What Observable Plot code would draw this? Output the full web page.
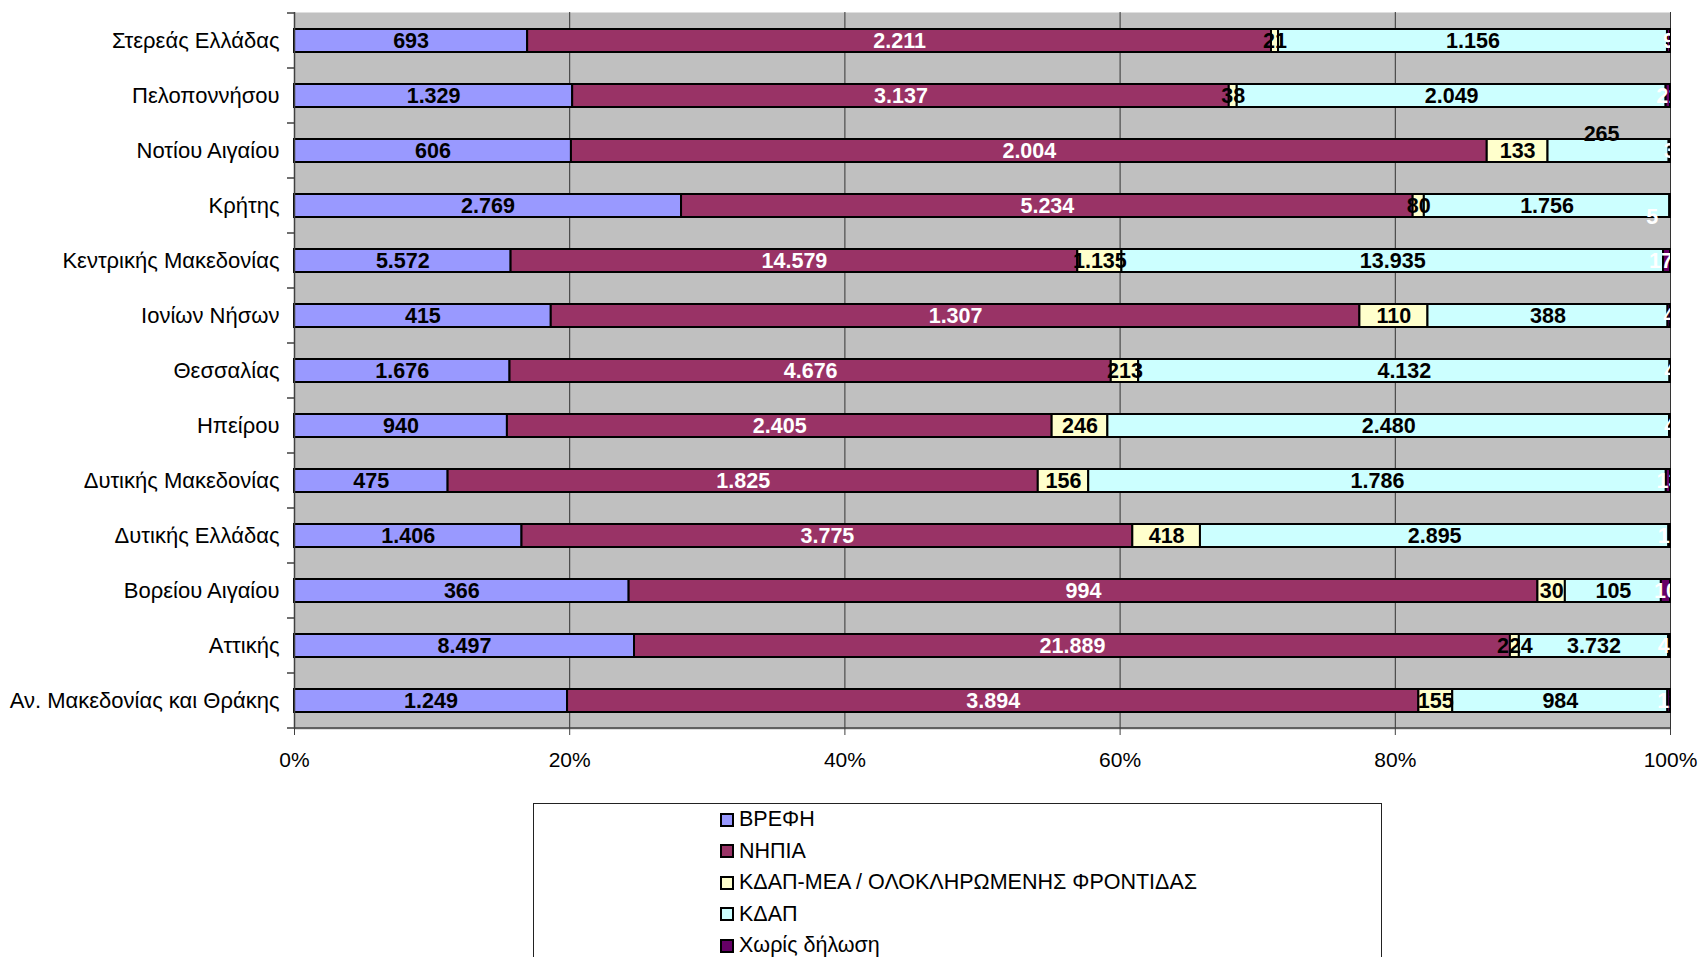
<!DOCTYPE html>
<html>
<head>
<meta charset="utf-8">
<script src="https://cdn.jsdelivr.net/npm/d3@7"></script>
<script src="https://cdn.jsdelivr.net/npm/@observablehq/plot@0.6"></script>
<style>
  html, body { margin: 0; padding: 0; background: #fff; }
  body { width: 1701px; height: 957px; overflow: hidden; font-family: "Liberation Sans", Arial, sans-serif; }
  #chart svg { display: block; }
  #legend {
    margin-left: 533px; margin-top: 3px; width: 849px; height: 200px;
    border: 1px solid #222; box-sizing: border-box; padding-left: 186px; padding-top: 0px;
  }
  .item { height: 31.5px; line-height: 31.5px; font-size: 21.5px; color: #000; white-space: nowrap; display: flex; align-items: center; }
  .sw { width: 14px; height: 14px; border: 2px solid #000; box-sizing: border-box; margin-right: 5px; flex: none; }
</style>
</head>
<body>
<div id="chart"></div>
<div id="legend"></div>
<script>
// Regions, top to bottom
const regions = [
  "Στερεάς Ελλάδας", "Πελοποννήσου", "Νοτίου Αιγαίου", "Κρήτης", "Κεντρικής Μακεδονίας",
  "Ιονίων Νήσων", "Θεσσαλίας", "Ηπείρου", "Δυτικής Μακεδονίας", "Δυτικής Ελλάδας",
  "Βορείου Αιγαίου", "Αττικής", "Αν. Μακεδονίας και Θράκης"
];
const series = ["ΒΡΕΦΗ", "ΝΗΠΙΑ", "ΚΔΑΠ-ΜΕΑ / ΟΛΟΚΛΗΡΩΜΕΝΗΣ ΦΡΟΝΤΙΔΑΣ", "ΚΔΑΠ", "Χωρίς δήλωση"];
const vrefi   = [693, 1329, 606, 2769, 5572, 415, 1676, 940, 475, 1406, 366, 8497, 1249];
const nipia   = [2211, 3137, 2004, 5234, 14579, 1307, 4676, 2405, 1825, 3775, 994, 21889, 3894];
const kdapMea = [21, 38, 133, 80, 1135, 110, 213, 246, 156, 418, 30, 224, 155];
const kdap    = [1156, 2049, 265, 1756, 13935, 388, 4132, 2480, 1786, 2895, 105, 3732, 984];
const noDecl  = [9, 21, 3, 5, 178, 4, 4, 4, 13, 10, 10, 45, 12];
const xTicks  = [0, 0.2, 0.4, 0.6, 0.8, 1];
const gridTicks = [0.2, 0.4, 0.6, 0.8, 1];

const colors = ["#9999FF", "#993366", "#FFFFCC", "#CCFFFF", "#660066"];
const labelColors = ["#000", "#fff", "#000", "#000", "#fff"];

const seriesValues = [vrefi, nipia, kdapMea, kdap, noDecl];
const rows = [];
regions.forEach((r, i) => {
  series.forEach((s, j) => rows.push({region: r, series: s, si: j, value: seriesValues[j][i]}));
});

const loc = d3.formatLocale({decimal: ",", thousands: ".", grouping: [3], currency: ["", "€"]});
const fmt = loc.format(",d");

const isA = d => d.region === "Νοτίου Αιγαίου" && d.series === "ΚΔΑΠ";
const isB = d => d.region === "Κρήτης" && d.series === "Χωρίς δήλωση";

const stackOpts = (extra) => Plot.stackX({x: "value", y: "region", z: "series", offset: "normalize", ...extra});
const textStyle = {fontSize: 21.5, fontWeight: "bold", fill: d => labelColors[d.si], clip: true};

const plot = Plot.plot({
  width: 1701,
  height: 800,
  marginLeft: 294,
  marginRight: 31,
  marginTop: 12,
  marginBottom: 71,
  style: {fontFamily: "'Liberation Sans', Arial, sans-serif", color: "#000", background: "#fff"},
  x: {domain: [0, 1]},
  y: {domain: regions, paddingInner: 0.58, paddingOuter: 0.29},
  color: {domain: series, range: colors},
  marks: [
    Plot.frame({fill: "#C0C0C0", stroke: null}),
    Plot.ruleX(gridTicks, {stroke: "#333", strokeWidth: 1}),
    Plot.barX(rows, stackOpts({fill: "series", stroke: "#000", strokeWidth: 2})),
    Plot.text(rows, stackOpts({...textStyle, text: d => (isA(d) || isB(d)) ? "" : fmt(d.value)})),
    Plot.text(rows, stackOpts({...textStyle, text: d => isA(d) ? fmt(d.value) : "", fill: "#000", dx: -7, dy: -17})),
    Plot.text(rows, stackOpts({...textStyle, text: d => isB(d) ? fmt(d.value) : "", fill: "#fff", dx: -18, dy: 11})),
    Plot.ruleX([0], {stroke: "#404040", strokeWidth: 1.5}),
    Plot.axisX({ticks: xTicks, tickFormat: d3.format(".0%"), tickSize: 6, tickPadding: 17, fontSize: 21, label: null, stroke: "#404040"}),
    Plot.axisY({tickSize: 0, tickPadding: 15, fontSize: 22, label: null})
  ]
});

// Category boundary ticks and bottom axis line, from the plot's scales
const ys = plot.scale("y");
const xs = plot.scale("x");
const svg = d3.select(plot);
const x0 = xs.apply(0), x1 = xs.apply(1);
const g = svg.append("g").attr("stroke", "#404040").attr("stroke-width", 1.5);
const bounds = regions.map(r => ys.apply(r) - (ys.step - ys.bandwidth) / 2);
bounds.push(ys.apply(regions[regions.length - 1]) + ys.bandwidth + (ys.step - ys.bandwidth) / 2);
bounds.forEach(b => g.append("line").attr("x1", x0 - 7).attr("x2", x0).attr("y1", b).attr("y2", b));
g.append("line").attr("x1", x0).attr("x2", x1)
  .attr("y1", bounds[bounds.length - 1]).attr("y2", bounds[bounds.length - 1]);

document.getElementById("chart").appendChild(plot);

// Legend
const legend = document.getElementById("legend");
series.forEach((s, j) => {
  const it = document.createElement("div");
  it.className = "item";
  const sw = document.createElement("span");
  sw.className = "sw";
  sw.style.background = colors[j];
  const t = document.createElement("span");
  t.textContent = s;
  it.appendChild(sw); it.appendChild(t);
  legend.appendChild(it);
});
</script>
</body>
</html>
